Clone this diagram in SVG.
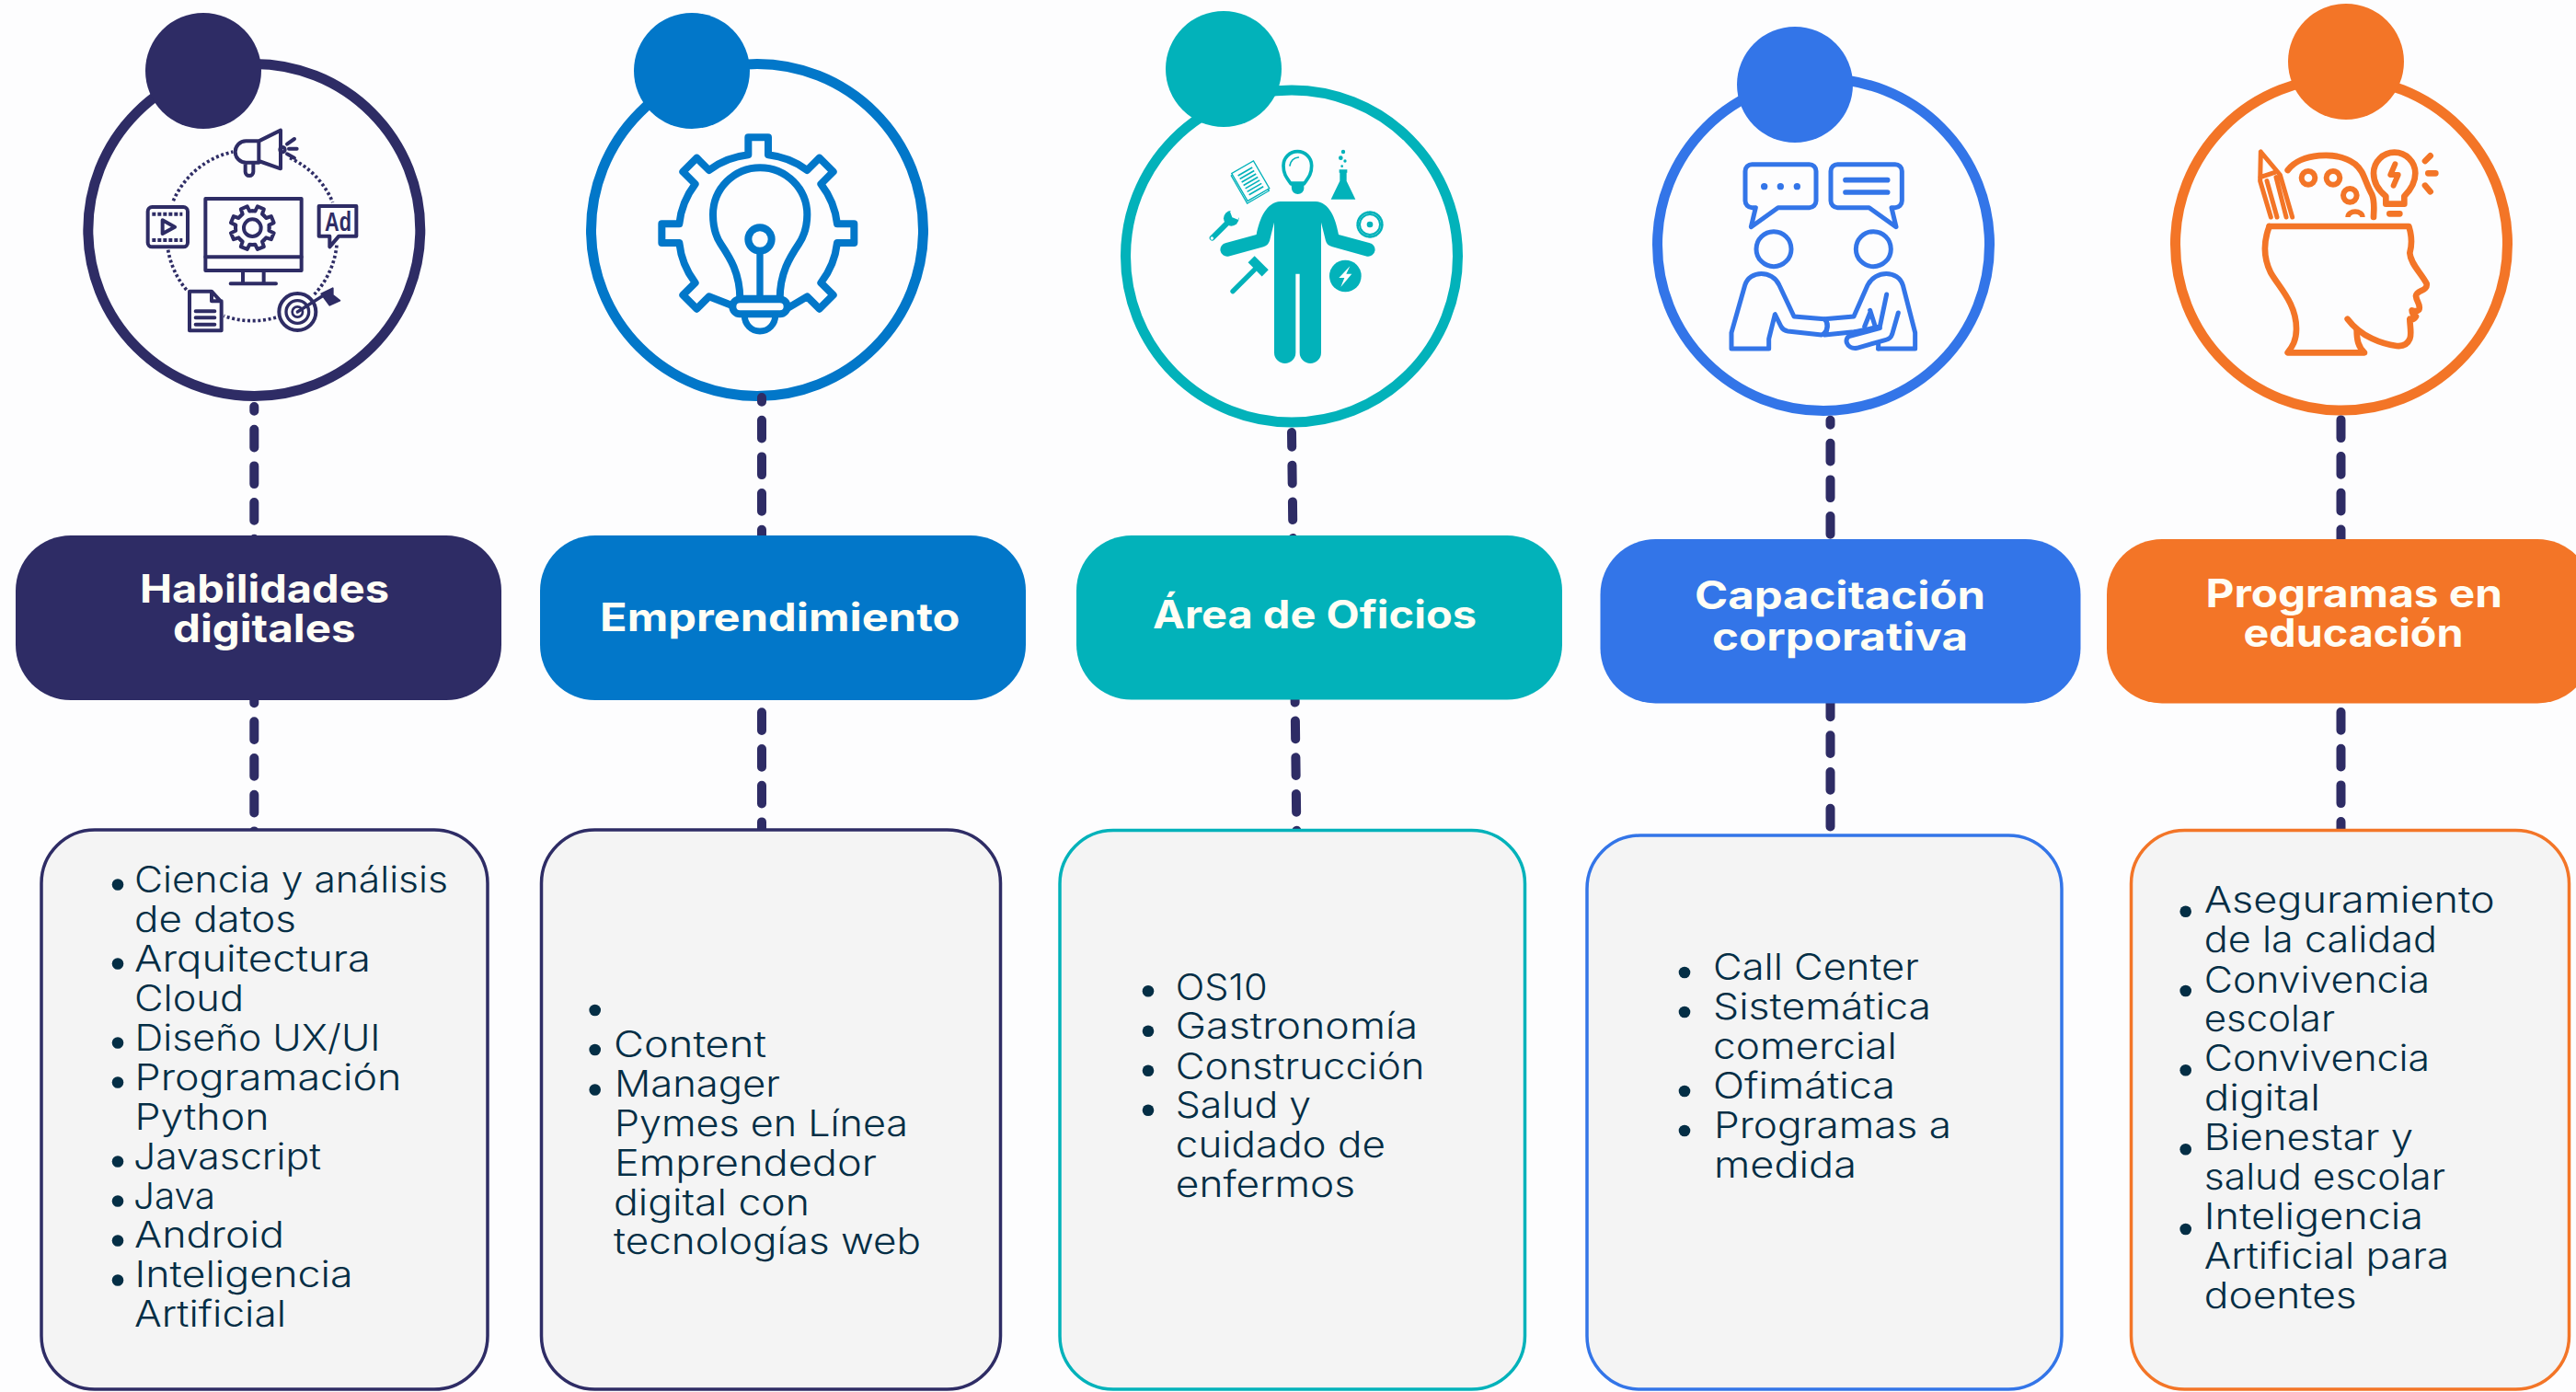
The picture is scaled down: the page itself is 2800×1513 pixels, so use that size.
<svg xmlns="http://www.w3.org/2000/svg" xmlns:xlink="http://www.w3.org/1999/xlink" width="2800" height="1513" viewBox="0 0 2800 1513">
<style>
.ring{fill:#fdfdfe;stroke-width:11}
.pill{rx:60px;ry:60px}
.box{fill:#f4f4f4;stroke-width:3.5;rx:58px;ry:58px}
.t{font-family:"Inter","Liberation Sans",sans-serif;font-size:39px;fill:#042e45;font-weight:300}
.h{font-family:"Inter","Liberation Sans",sans-serif;font-size:42px;fill:#fffef5;font-weight:700}
.b{fill:#042e45}
.con{fill:none;stroke:#2e2c65;stroke-width:10;stroke-linecap:round;stroke-dasharray:19.7 20}
.ln{fill:none;stroke-linecap:round;stroke-linejoin:round}
.navy{stroke:#2e2c65;color:#2e2c65}.blue{stroke:#0277c9}.teal{stroke:#02b2ba}.roy{stroke:#3375e8}.org{stroke:#f37527}
.fnavy{fill:#2e2c65}.fblue{fill:#0277c9}.fteal{fill:#02b2ba}.froy{fill:#3375e8}.forg{fill:#f37527}
</style>
<defs>
<path id="tooth" d="M-21,-50.8L-12.4,-53.6L-11.3,-71H11.3L12.4,-53.6L21,-50.8"/>
</defs>
<rect width="2800" height="1513" fill="#fdfdfe"/>

<g id="icon-habilidades">
<circle class="ring navy" cx="276.3" cy="250" r="180.5"/>
<circle class="fnavy" cx="221" cy="77" r="63"/>
<g transform="translate(60,0) scale(.33333)" class="ln navy" stroke-width="12">
<path stroke-width="11" stroke-dasharray="9 8" stroke-linecap="butt" d="M385,655A275,275 0 0 1 580,495M765,515A275,275 0 0 1 905,660M918,800A275,275 0 0 1 845,960M720,1035A275,275 0 0 1 550,1030M428,945A275,275 0 0 1 368,815"/>
<path d="M664,460H622a35,35 0 0 0 0,70H664ZM664,460L735,425V550L664,525M620,530V560a13,13 0 0 0 26,0V530"/>
<circle cx="741" cy="488" r="8"/>
<path d="M756,470L780,453M762,485H788M756,502L780,515"/>
<rect x="490" y="648" width="313" height="234"/>
<path d="M490,838H803M612,882V925M680,882V925M572,925H720"/>
<g transform="translate(643,743)">
<circle r="28"/>
<use xlink:href="#tooth" href="#tooth" transform="rotate(22.5)"/><use xlink:href="#tooth" href="#tooth" transform="rotate(67.5)"/><use xlink:href="#tooth" href="#tooth" transform="rotate(112.5)"/><use xlink:href="#tooth" href="#tooth" transform="rotate(157.5)"/><use xlink:href="#tooth" href="#tooth" transform="rotate(202.5)"/><use xlink:href="#tooth" href="#tooth" transform="rotate(247.5)"/><use xlink:href="#tooth" href="#tooth" transform="rotate(292.5)"/><use xlink:href="#tooth" href="#tooth" transform="rotate(337.5)"/>
</g>
<rect x="302" y="675" width="130" height="130" rx="14"/>
<path d="M316,698H415M316,783H415" stroke-width="12" stroke-dasharray="12 6" stroke-linecap="butt"/>
<path d="M350,718L390,740L350,762Z"/>
<path d="M860,672H982V770H925L895,805V770H860Z"/>
<path d="M438,950H510L542,985V1078H438ZM510,950V982H542"/>
<path d="M458,1015H520M458,1036H520M458,1058H520"/>
<circle cx="790" cy="1017" r="60"/><circle cx="790" cy="1017" r="37" stroke-width="10"/><circle cx="790" cy="1017" r="17" stroke-width="8"/>
<path d="M790,1017L875,963" stroke-width="10"/>
<path d="M868,958L905,940V962L928,980L895,995L880,975Z" fill="#2e2c65" stroke-width="6"/>
</g>
<text x="353" y="251" textLength="29" lengthAdjust="spacingAndGlyphs" font-family="'Liberation Sans',sans-serif" font-weight="700" font-size="29" fill="#2e2c65">Ad</text>
</g>

<g id="icon-emprendimiento">
<circle class="ring blue" cx="823" cy="250" r="180.5"/>
<circle class="fblue" cx="752" cy="77" r="63"/>
<g transform="translate(620,0) scale(.33333)" class="ln blue" stroke-width="24">
<path d="M700,1010L772,967L812,1007L857,962L817,922A260,260 0 0 0 870,792H925V730H870A260,260 0 0 0 817,600L857,560L812,515L772,555A260,260 0 0 0 645,505V448H580V505A260,260 0 0 0 452,555L412,515L367,560L407,600A260,260 0 0 0 355,730H298V792H355A260,260 0 0 0 407,922L367,962L412,1007L452,967L525,995"/>
<path d="M553,975C553,890 520,840 490,795C470,765 465,735 465,700A153,153 0 0 1 772,700C772,735 765,765 745,795C715,840 683,890 683,975"/>
<circle cx="618" cy="780" r="38"/>
<path d="M618,820V972M553,973H683" stroke-width="22"/>
<rect x="529" y="976" width="178" height="48" rx="24" fill="#fdfdfe"/>
<path d="M568,1030a50,50 0 0 0 100,0" stroke-width="21"/>
</g>
</g>

<g id="icon-oficios">
<circle class="ring teal" cx="1404" cy="278.5" r="180.5"/>
<circle class="fteal" cx="1330" cy="75" r="63"/>
<g transform="translate(1200,0) scale(.33333)">
<path class="fteal" d="M575,657H690C735,660 755,710 765,765L865,792A22,22 0 0 1 858,836L745,805Q727,800 723,785L708,725V1150A35,35 0 0 1 638,1150V893H625V1150A35,35 0 0 1 555,1150V725L540,785Q535,800 520,805L405,836A22,22 0 0 1 398,792L497,765C508,710 530,660 575,657Z"/>
<path class="ln teal" stroke-width="11" d="M610,600C592,575 585,565 585,540A46,46 0 0 1 677,540C677,565 670,575 652,600Z" fill="#fdfdfe"/>
<path class="fteal" d="M610,592H652V615A20,18 0 0 1 612,615Z"/>
<path class="ln teal" stroke-width="5" d="M606,540Q610,516 634,513"/>
<path class="fteal" d="M767,553H793V563H791V590L820,650H740L769,590V563H767Z"/>
<circle class="fteal" cx="780" cy="495" r="6.5"/><circle class="fteal" cx="772" cy="515" r="7"/><circle class="fteal" cx="786" cy="525" r="5"/><circle class="fteal" cx="776" cy="542" r="4"/>
<g transform="translate(475,595) rotate(-30)" class="ln teal" stroke-width="4">
<rect x="-41" y="-49" width="82" height="104" stroke-linejoin="miter"/>
<rect x="-36" y="-55" width="82" height="104" fill="#fdfdfe" stroke-linejoin="miter"/>
<path stroke-width="5" stroke-linecap="butt" d="M-22,-38H32M-22,-26H32M-22,-14H32M-22,-2H32M-22,10H32M-22,22H32M-22,34H32"/>
</g>
<path class="ln teal" stroke-width="18" d="M353,776L405,724"/>
<circle class="fteal" cx="415" cy="712" r="25"/>
<path fill="#fdfdfe" d="M418,709L411,690L430,672L448,690L437,716Z"/>
<circle cx="352" cy="777" r="5" fill="#fdfdfe"/>
<circle cx="867" cy="732" r="40" class="ln teal" stroke-width="8" stroke-dasharray="4 4" stroke-linecap="butt"/>
<circle cx="867" cy="732" r="33" class="ln teal" stroke-width="6"/>
<circle class="fteal" cx="867" cy="732" r="10"/>
<path class="ln teal" stroke-width="16" stroke-linecap="butt" d="M420,950L490,880"/>
<rect class="fteal" x="-32" y="-15" width="64" height="30" transform="translate(503,868) rotate(45)"/>
<circle class="fteal" cx="787" cy="900" r="52"/>
<path fill="#fdfdfe" d="M802,868L766,906H784L772,936L808,893H790Z"/>
</g>
</g>

<g id="icon-capacitacion">
<circle class="ring roy" cx="1982" cy="266" r="180.5"/>
<circle class="froy" cx="1951" cy="92" r="63"/>
<g transform="translate(1780,0) scale(.33333)" class="ln roy" stroke-width="15">
<path d="M373,536H560a22,22 0 0 1 22,22V655a22,22 0 0 1 -22,22H458L370,740L385,677H373a22,22 0 0 1 -22,-22V558a22,22 0 0 1 22,-22Z"/>
<circle class="froy" cx="413" cy="608" r="11" stroke="none"/><circle class="froy" cx="466" cy="608" r="11" stroke="none"/><circle class="froy" cx="520" cy="608" r="11" stroke="none"/>
<path d="M652,536H840a22,22 0 0 1 22,22V655a22,22 0 0 1 -22,22H828L843,740L755,677H652a22,22 0 0 1 -22,-22V558a22,22 0 0 1 22,-22Z"/>
<path stroke-width="17" d="M678,587H815M678,627H815"/>
<circle cx="444" cy="812" r="57"/><circle cx="769" cy="812" r="57"/>
<path d="M428,1137H306V1085L350,930C365,880 440,880 462,930L510,1032L608,1040C625,1050 620,1085 600,1092L490,1080Q475,1078 468,1065L448,1025L428,1105Z"/>
<path d="M785,1137H905V1085L865,930C850,880 775,880 750,930L705,1032L610,1040Q628,1062 610,1092L705,1082Q730,1078 790,1065L812,960"/>
<path d="M850,1020L830,1090Q825,1105 810,1108L715,1135C680,1140 670,1100 695,1095L790,1070M758,1012L775,1065M740,1065L758,1020M785,1137V1120"/>
</g>
</g>

<g id="icon-programas">
<circle class="ring org" cx="2545" cy="265.5" r="180.5"/>
<circle class="forg" cx="2550" cy="67" r="63"/>
<g transform="translate(2340,0) scale(.33333)" class="ln org" stroke-width="20">
<path d="M380,738H835C845,770 845,800 838,825C840,860 875,890 893,925C897,950 860,945 858,965C860,985 875,995 868,1010Q860,1018 845,1012Q845,1025 858,1032Q850,1045 838,1040C838,1060 845,1090 838,1105C830,1125 815,1130 795,1128C750,1122 680,1100 635,1040"/>
<path d="M380,738C360,790 360,840 385,890C410,935 470,990 468,1075C468,1110 455,1130 440,1150H690C670,1130 665,1110 665,1075"/>
<path stroke-width="15" d="M352,495L415,570L455,708M352,495L350,590L385,708M372,590L405,708M402,578L435,708M350,578L398,562"/>
<path d="M440,555C480,500 600,490 660,535C690,560 690,590 715,635C725,660 720,690 720,708"/>
<circle cx="507" cy="580" r="22" stroke-width="18"/><circle cx="588" cy="580" r="22" stroke-width="18"/><circle cx="643" cy="637" r="22" stroke-width="18"/>
<path stroke-width="16" stroke-linecap="butt" d="M636,708a24,18 0 0 1 48,0"/>
<path d="M760,665V640C735,620 720,595 720,565A68,68 0 0 1 856,565C856,595 840,620 820,640V665Z"/>
<path stroke-width="18" d="M790,535L775,570H800L785,605"/>
<path d="M772,697H805M888,525L905,508M898,565H922M888,605L905,625"/>
</g>
</g>

<g id="connectors">
<path class="con" stroke-dashoffset="15" d="M276.3,442V912"/>
<path class="con" stroke-dashoffset="15" d="M828,432V912"/>
<path class="con" stroke-dashoffset="4" d="M1404,470L1409.5,912"/>
<path class="con" stroke-dashoffset="14.7" d="M1989.5,456.7V899"/>
<path class="con" d="M2544.5,456.4V912"/>
</g>

<g id="pill-habilidades">
<rect class="pill fnavy" x="17" y="582" width="528" height="179"/>
<text class="h" x="152" y="655" textLength="271" lengthAdjust="spacingAndGlyphs">Habilidades</text>
<text class="h" x="188" y="698" textLength="198.5" lengthAdjust="spacingAndGlyphs">digitales</text>
</g>
<g id="pill-emprendimiento">
<rect class="pill fblue" x="587" y="582" width="528" height="179"/>
<text class="h" x="652" y="686" textLength="391.5" lengthAdjust="spacingAndGlyphs">Emprendimiento</text>
</g>
<g id="pill-oficios">
<rect class="pill fteal" x="1170" y="582" width="528" height="178.5"/>
<text class="h" x="1253" y="683" textLength="352" lengthAdjust="spacingAndGlyphs">Área de Oficios</text>
</g>
<g id="pill-capacitacion">
<rect class="pill froy" x="1739.5" y="586" width="522" height="178.5"/>
<text class="h" x="1842" y="661.5" textLength="316" lengthAdjust="spacingAndGlyphs">Capacitación</text>
<text class="h" x="1861" y="707" textLength="278" lengthAdjust="spacingAndGlyphs">corporativa</text>
</g>
<g id="pill-programas">
<rect class="pill forg" x="2290" y="586" width="528" height="178.5"/>
<text class="h" x="2397.5" y="660" textLength="322.5" lengthAdjust="spacingAndGlyphs">Programas en</text>
<text class="h" x="2438.5" y="703" textLength="239" lengthAdjust="spacingAndGlyphs">educación</text>
</g>

<g id="box-habilidades">
<rect class="box navy" x="45" y="902" width="485" height="608"/>
<circle class="b" cx="128" cy="961.5" r="6.3"/><circle class="b" cx="128" cy="1047.5" r="6.3"/><circle class="b" cx="128" cy="1133.5" r="6.3"/><circle class="b" cx="128" cy="1176.5" r="6.3"/><circle class="b" cx="128" cy="1262.5" r="6.3"/><circle class="b" cx="128" cy="1305.5" r="6.3"/><circle class="b" cx="128" cy="1348.5" r="6.3"/><circle class="b" cx="128" cy="1391.5" r="6.3"/>
<text class="t" x="146" y="970" textLength="341" lengthAdjust="spacingAndGlyphs">Ciencia y análisis</text>
<text class="t" x="146" y="1013" textLength="176" lengthAdjust="spacingAndGlyphs">de datos</text>
<text class="t" x="146" y="1056" textLength="257" lengthAdjust="spacingAndGlyphs">Arquitectura</text>
<text class="t" x="146" y="1099" textLength="119" lengthAdjust="spacingAndGlyphs">Cloud</text>
<text class="t" x="146.5" y="1142" textLength="267" lengthAdjust="spacingAndGlyphs">Diseño UX/UI</text>
<text class="t" x="146.5" y="1185" textLength="290" lengthAdjust="spacingAndGlyphs">Programación</text>
<text class="t" x="146.5" y="1228" textLength="146" lengthAdjust="spacingAndGlyphs">Python</text>
<text class="t" x="145" y="1270.5" textLength="204" lengthAdjust="spacingAndGlyphs">Javascript</text>
<text class="t" x="145" y="1313.5" textLength="89" lengthAdjust="spacingAndGlyphs">Java</text>
<text class="t" x="146" y="1356" textLength="163" lengthAdjust="spacingAndGlyphs">Android</text>
<text class="t" x="146.5" y="1399" textLength="237" lengthAdjust="spacingAndGlyphs">Inteligencia</text>
<text class="t" x="146" y="1441.5" textLength="165" lengthAdjust="spacingAndGlyphs">Artificial</text>
</g>
<g id="box-emprendimiento">
<rect class="box navy" x="588.5" y="902" width="499" height="608"/>
<circle class="b" cx="646.7" cy="1098" r="6.3"/><circle class="b" cx="646.7" cy="1141" r="6.3"/><circle class="b" cx="646.7" cy="1184.5" r="6.3"/>
<text class="t" x="667" y="1149" textLength="166" lengthAdjust="spacingAndGlyphs">Content</text>
<text class="t" x="668" y="1191.5" textLength="180" lengthAdjust="spacingAndGlyphs">Manager</text>
<text class="t" x="668" y="1234.5" textLength="319" lengthAdjust="spacingAndGlyphs">Pymes en Línea</text>
<text class="t" x="668" y="1277.5" textLength="285" lengthAdjust="spacingAndGlyphs">Emprendedor</text>
<text class="t" x="667" y="1320.5" textLength="213" lengthAdjust="spacingAndGlyphs">digital con</text>
<text class="t" x="667" y="1363" textLength="334" lengthAdjust="spacingAndGlyphs">tecnologías web</text>
</g>
<g id="box-oficios">
<rect class="box teal" x="1152" y="902.5" width="505.5" height="607.5"/>
<circle class="b" cx="1248" cy="1077.3" r="6.3"/><circle class="b" cx="1248" cy="1120.7" r="6.3"/><circle class="b" cx="1248" cy="1163.7" r="6.3"/><circle class="b" cx="1248" cy="1206.7" r="6.3"/>
<text class="t" x="1277.8" y="1086.6" textLength="99.8" lengthAdjust="spacingAndGlyphs">OS10</text>
<text class="t" x="1277.8" y="1129.3" textLength="263.2" lengthAdjust="spacingAndGlyphs">Gastronomía</text>
<text class="t" x="1277.8" y="1172.6" textLength="270.7" lengthAdjust="spacingAndGlyphs">Construcción</text>
<text class="t" x="1277.8" y="1215.3" textLength="147.2" lengthAdjust="spacingAndGlyphs">Salud y</text>
<text class="t" x="1277.8" y="1258.3" textLength="228.2" lengthAdjust="spacingAndGlyphs">cuidado de</text>
<text class="t" x="1277.8" y="1301.3" textLength="195.2" lengthAdjust="spacingAndGlyphs">enfermos</text>
</g>
<g id="box-capacitacion">
<rect class="box roy" x="1725" y="908" width="516" height="602"/>
<circle class="b" cx="1831" cy="1057" r="6.3"/><circle class="b" cx="1831" cy="1100" r="6.3"/><circle class="b" cx="1831" cy="1186" r="6.3"/><circle class="b" cx="1831" cy="1229" r="6.3"/>
<text class="t" x="1862" y="1065" textLength="223.8" lengthAdjust="spacingAndGlyphs">Call Center</text>
<text class="t" x="1862" y="1108" textLength="237" lengthAdjust="spacingAndGlyphs">Sistemática</text>
<text class="t" x="1862" y="1151" textLength="199.8" lengthAdjust="spacingAndGlyphs">comercial</text>
<text class="t" x="1862" y="1194" textLength="198" lengthAdjust="spacingAndGlyphs">Ofimática</text>
<text class="t" x="1863" y="1237" textLength="258" lengthAdjust="spacingAndGlyphs">Programas a</text>
<text class="t" x="1863" y="1280" textLength="155" lengthAdjust="spacingAndGlyphs">medida</text>
</g>
<g id="box-programas">
<rect class="box org" x="2316.5" y="902.5" width="476" height="607.5"/>
<circle class="b" cx="2375.7" cy="990.7" r="6.3"/><circle class="b" cx="2375.7" cy="1077" r="6.3"/><circle class="b" cx="2375.7" cy="1163.3" r="6.3"/><circle class="b" cx="2375.7" cy="1249.3" r="6.3"/><circle class="b" cx="2375.7" cy="1336" r="6.3"/>
<text class="t" x="2395.8" y="992" textLength="315.9" lengthAdjust="spacingAndGlyphs">Aseguramiento</text>
<text class="t" x="2395.8" y="1035.2" textLength="253.2" lengthAdjust="spacingAndGlyphs">de la calidad</text>
<text class="t" x="2395.8" y="1078.5" textLength="245.2" lengthAdjust="spacingAndGlyphs">Convivencia</text>
<text class="t" x="2395.8" y="1121.2" textLength="142.2" lengthAdjust="spacingAndGlyphs">escolar</text>
<text class="t" x="2395.8" y="1164.2" textLength="245.2" lengthAdjust="spacingAndGlyphs">Convivencia</text>
<text class="t" x="2395.8" y="1206.5" textLength="126.2" lengthAdjust="spacingAndGlyphs">digital</text>
<text class="t" x="2395.8" y="1250.2" textLength="227.2" lengthAdjust="spacingAndGlyphs">Bienestar y</text>
<text class="t" x="2395.8" y="1292.5" textLength="262.2" lengthAdjust="spacingAndGlyphs">salud escolar</text>
<text class="t" x="2395.8" y="1336.2" textLength="238.2" lengthAdjust="spacingAndGlyphs">Inteligencia</text>
<text class="t" x="2395.8" y="1379.2" textLength="266.2" lengthAdjust="spacingAndGlyphs">Artificial para</text>
<text class="t" x="2395.8" y="1422.2" textLength="165.9" lengthAdjust="spacingAndGlyphs">doentes</text>
</g>
</svg>
